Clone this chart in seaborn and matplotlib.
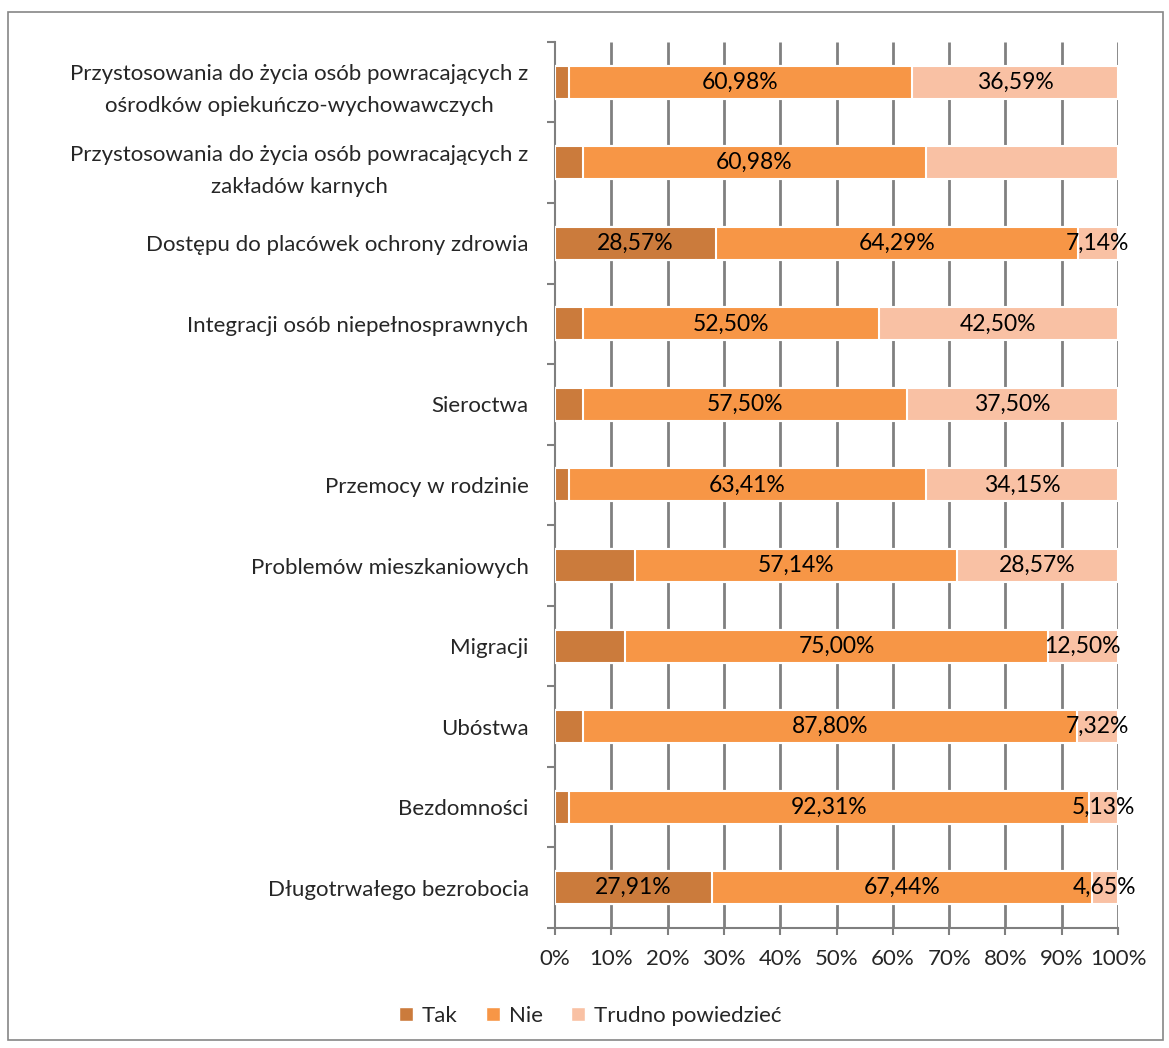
import pandas as pd
import numpy as np
import seaborn as sns
import matplotlib.pyplot as plt
from matplotlib.patches import Rectangle, Patch

kategorie = [
    "Przystosowania do życia osób powracających z\nośrodków opiekuńczo-wychowawczych",
    "Przystosowania do życia osób powracających z\nzakładów karnych",
    "Dostępu do placówek ochrony zdrowia",
    "Integracji osób niepełnosprawnych",
    "Sieroctwa",
    "Przemocy w rodzinie",
    "Problemów mieszkaniowych",
    "Migracji",
    "Ubóstwa",
    "Bezdomności",
    "Długotrwałego bezrobocia",
]
tak = [2.44, 4.88, 28.57, 5.00, 5.00, 2.44, 14.29, 12.50, 4.88, 2.56, 27.91]
nie = [60.98, 60.98, 64.29, 52.50, 57.50, 63.41, 57.14, 75.00, 87.80, 92.31, 67.44]
trudno = [36.59, 34.15, 7.14, 42.50, 37.50, 34.15, 28.57, 12.50, 7.32, 5.13, 4.65]
# ktore etykiety sa widoczne w oryginale
pokaz_tak = [False, False, True, False, False, False, False, False, False, False, True]
pokaz_nie = [True] * 11
pokaz_trudno = [True, False, True, True, True, True, True, True, True, True, True]

kolory = {"Tak": "#CB7B3C", "Nie": "#F79646", "Trudno powiedzieć": "#F9C1A4"}

df = pd.DataFrame({"kat": kategorie, "Tak": tak, "Nie": nie, "Trudno": trudno})
df["c1"] = df["Tak"]
df["c2"] = df["Tak"] + df["Nie"]
df["c3"] = df["c2"] + df["Trudno"]

sns.set_style("white")
plt.rcParams["font.family"] = ["Lato", "DejaVu Sans"]
fs = 16
fs_lab = 16.5

fig = plt.figure(figsize=(11.69, 10.48), dpi=100)
ax = fig.add_axes([0.4748, 0.1145, 0.4816, 0.8455])

szer = 0.41
sns.barplot(data=df, y="kat", x="c3", color=kolory["Trudno powiedzieć"], orient="h",
            width=szer, edgecolor="white", linewidth=1.5, ax=ax, saturation=1, zorder=3)
sns.barplot(data=df, y="kat", x="c2", color=kolory["Nie"], orient="h",
            width=szer, edgecolor="white", linewidth=1.5, ax=ax, saturation=1, zorder=3)
sns.barplot(data=df, y="kat", x="c1", color=kolory["Tak"], orient="h",
            width=szer, edgecolor="white", linewidth=1.5, ax=ax, saturation=1, zorder=3)

def fmt(v):
    return f"{v:.2f}%".replace(".", ",")

for i in range(len(df)):
    r = df.iloc[i]
    if pokaz_tak[i]:
        ax.text(r["Tak"] / 2, i, fmt(r["Tak"]), ha="center", va="center", fontsize=fs_lab, color="black", zorder=12)
    if pokaz_nie[i]:
        ax.text(r["c1"] + r["Nie"] / 2, i, fmt(r["Nie"]), ha="center", va="center", fontsize=fs_lab, color="black", zorder=12)
    if pokaz_trudno[i]:
        ax.text(r["c2"] + r["Trudno"] / 2, i, fmt(r["Trudno"]), ha="center", va="center", fontsize=fs_lab, color="black", zorder=12)

n = len(df)
ax.set_xlim(0, 100)
ax.set_ylim(n - 0.5, -0.5)
ax.set_xticks(np.arange(0, 101, 10))
ax.set_xticklabels([f"{v}%" for v in range(0, 101, 10)], fontsize=fs)
ax.set_xlabel("")
ax.set_ylabel("")
ax.set_yticks(range(n))
ax.set_yticklabels(kategorie, fontsize=fs, multialignment="center", linespacing=1.75)
ax.set_yticks(np.arange(-0.5, n, 1), minor=True)
ax.tick_params(axis="y", which="major", length=0, pad=19)
ax.tick_params(axis="y", which="minor", length=6, color="#7F7F7F", width=1.5, left=True)
ax.tick_params(axis="x", which="major", length=5, color="#7F7F7F", width=1.5, bottom=True, pad=10)

# pionowe linie siatki (pod slupkami nie widac ich i tak)
for x in np.arange(10, 101, 10):
    ax.axvline(x, color="#808080", linewidth=2, zorder=2.5, solid_capstyle="butt")
for s in ["top", "right"]:
    ax.spines[s].set_visible(False)
for s in ["left", "bottom"]:
    ax.spines[s].set_color("#7F7F7F")
    ax.spines[s].set_linewidth(1.5)

uchwyty = [Patch(facecolor=kolory[k], edgecolor="white", label=k) for k in kolory]
fig.legend(handles=uchwyty, loc="center", bbox_to_anchor=(0.505, 0.031), ncol=3, frameon=False,
           fontsize=fs, handlelength=0.6, handleheight=0.6, handletextpad=0.4, columnspacing=1.3)

ramka = Rectangle((8 / 1169, 8 / 1048), 1155 / 1169, 1028 / 1048, transform=fig.transFigure,
                  fill=False, edgecolor="#868686", linewidth=1.2, zorder=-1)
fig.patches.append(ramka)

fig.savefig("out.png", dpi=100)
